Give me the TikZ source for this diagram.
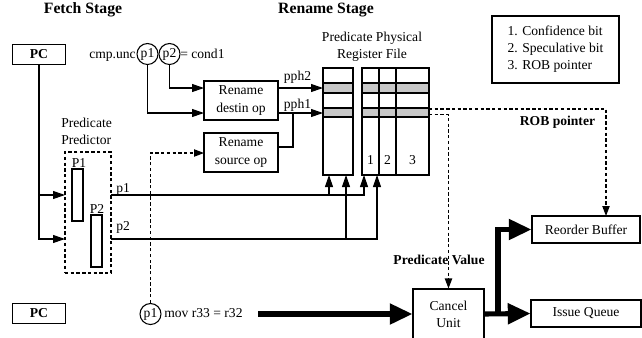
\documentclass[tikz,border=0pt]{standalone}
\usepackage{fontspec}
\setmainfont{Liberation Serif}
\usetikzlibrary{arrows.meta}
\begin{document}
\begin{tikzpicture}[x=0.75pt,y=-0.75pt,
  every node/.style={font=\fontsize{10.2pt}{12.8pt}\selectfont, inner sep=0pt},
  box/.style 2 args={draw, line width=0.8pt, minimum width=#1*0.75pt,
    minimum height=#2*0.75pt, align=center},
  ln/.style={line width=0.8pt},
  arr/.style={ln, -{Triangle[length=9pt,width=6pt]}},
  dsh/.style={line width=0.8pt, dash pattern=on 2.5pt off 1.8pt},
  darr/.style={dsh, -{Triangle[length=7.5pt,width=5.5pt]}},
  thk/.style={line width=3.8pt},
  tarr/.style={thk, -{Triangle[length=17pt,width=15pt]}},
  ttl/.style={font=\fontsize{11.8pt}{14pt}\selectfont\bfseries},
  bld/.style={font=\fontsize{10.2pt}{12.8pt}\selectfont\bfseries},
  pcirc/.style={draw, circle, line width=0.8pt, minimum size=21*0.75pt},
  cell/.style={draw, line width=0.8pt, fill=black!22}
]
\useasboundingbox (0,0) rectangle (642,337);

% stage titles
\node[ttl] (tfetch) at (83,10) {Fetch Stage};
\node[ttl] (tren) at (326,10) {Rename Stage};

% program counters
\node[box={53}{20}, bld] (pc1) at (39,54.5) {PC};
\node[box={53}{20}, bld] (pc2) at (39,313.5) {PC};

% predicate predictor
\node[anchor=west, align=left] (predlbl) at (61,131.5) {Predicate\\Predictor};
\node[box={46}{121}, dsh] (pred) at (88,212.5) {};
\node[box={11}{52}] (P1) at (77.5,195) {};
\node[anchor=base] (P1l) at (79,167) {P1};
\node[box={11}{52}] (P2) at (96.5,241) {};
\node[anchor=base] (P2l) at (97,213) {P2};

\coordinate (pa) at (65,195);
\coordinate (pb) at (65,239);
\draw[arr] (pc1.south) |- (pa);
\draw[arr] (pc1.south) |- (pb);

% compare instruction
\node[pcirc] (c1) at (147.5,54) {p1};
\node[pcirc] (c2) at (169.5,54) {p2};
\node[anchor=base east] (cmp) at (136,58) {cmp.unc};
\node[anchor=base west] (cond) at (180,58) {= cond1};

% rename logic
\node[box={74}{39}] (dest) at (241,100.5) {Rename\\destin op};
\node[box={74}{39}] (src) at (241,152.5) {Rename\\source op};

\coordinate (d1) at (204,113);
\coordinate (d2) at (204,88);
\draw[arr] (c1.south) |- (d1);
\draw[arr] (c2.south) |- (d2);

% predicate physical register file
\node[align=center] (rflbl) at (372,47) {Predicate Physical\\Register File};
\node[box={30}{107}] (regL) at (338,121.5) {};
\node[box={67}{107}] (regR) at (395.5,121.5) {};
\draw[cell] (323,83) rectangle (353,93);
\draw[cell] (323,108) rectangle (353,117);
\draw[cell] (362,83) rectangle (429,93);
\draw[cell] (362,108) rectangle (429,117);
\draw[ln] (379,68) -- (379,175);
\draw[ln] (396,68) -- (396,175);
\node[anchor=base] (n1) at (370.5,164) {1};
\node[anchor=base] (n2) at (387.5,164) {2};
\node[anchor=base] (n3) at (412.5,164) {3};

\coordinate (o2) at (278,88);
\coordinate (o1) at (278,113);
\coordinate (r2) at (323,88);
\coordinate (r1) at (323,113);
\draw[arr] (o2) -- (r2);
\draw[arr] (o1) -- (r1);
\node[anchor=base] (pph2) at (297.5,80.5) {pph2};
\node[anchor=base] (pph1) at (297.5,108.5) {pph1};
\coordinate (so) at (277,147);
\coordinate (jn) at (293,113);
\draw[ln] (so) -| (jn);

% predicted predicates to register file read ports
\coordinate (q1) at (111,195);
\coordinate (q2) at (111,239);
\coordinate (in1) at (329,175);
\coordinate (in2) at (346,175);
\coordinate (in3) at (364,175);
\coordinate (in4) at (377,175);
\coordinate (b1) at (329,195);
\coordinate (b2) at (346,239);
\draw[arr] (q1) -| (in3);
\draw[arr] (q2) -| (in4);
\draw[arr] (b1) -- (in1);
\draw[arr] (b2) -- (in2);
\node[anchor=base west] (lp1) at (116,192) {p1};
\node[anchor=base west] (lp2) at (116,230) {p2};

% guarded move instruction
\node[pcirc] (c3) at (150.5,314) {p1};
\node[anchor=base west] (mov) at (164,317.5) {mov r33 = r32};
\coordinate (sin) at (204,153);
\draw[darr] (c3.north) |- (sin);

% legend
\node[box={127}{67}, align=left] (leg) at (555.5,49.5)
  {1. Confidence bit\\2. Speculative bit\\3. ROB pointer};

% back end
\node[box={71}{50}] (cancel) at (448.5,314) {Cancel\\Unit};
\node[box={108}{27}] (rob) at (586,229.5) {Reorder Buffer};
\node[box={110}{27}] (iq) at (586,313.5) {Issue Queue};

\coordinate (f1) at (429,109);
\coordinate (f2) at (429,114.5);
\coordinate (robin) at (606,216);
\draw[darr] (f1) -| (robin);
\draw[darr] (f2) -| (cancel.north);
\node[bld, anchor=base] (robl) at (557.5,125.5) {ROB pointer};
\node[bld, anchor=base] (pvl) at (439,264) {Predicate Value};

\coordinate (ms) at (258,314);
\coordinate (br) at (498,314);
\draw[tarr] (ms) -- (cancel.west);
\draw[tarr] (cancel.east) -- (iq.west);
\draw[tarr] (br) |- (rob.west);
\end{tikzpicture}
\end{document}
